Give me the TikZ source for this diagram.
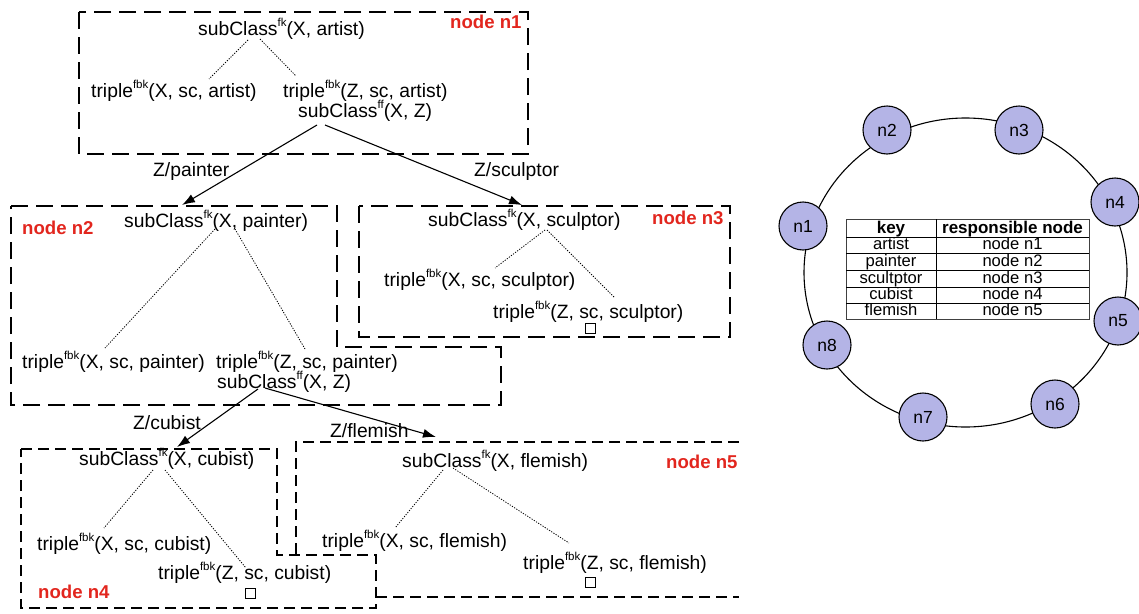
\documentclass[tikz,border=0pt]{standalone}
\usepackage{fontspec}
\setmainfont{Liberation Sans}
\usetikzlibrary{arrows.meta}

\definecolor{nodered}{RGB}{226,38,30}
\definecolor{ringfill}{RGB}{180,180,230}
\newcommand{\supx}[1]{\raisebox{0.42em}{\fontsize{11.5}{11.5}\selectfont #1}}

\tikzset{
  term/.style={inner sep=0pt, anchor=base west, font=\fontsize{19.3}{22}\selectfont},
  peer/.style={inner sep=0pt, anchor=base west, font=\fontsize{18.6}{20}\selectfont\bfseries, text=nodered},
  edgelbl/.style={inner sep=0pt, anchor=base west, font=\fontsize{19.3}{22}\selectfont},
  bigbox/.style={line width=1.2pt, dash pattern=on 17pt off 8pt},
  smallbox/.style={line width=1.1pt, dash pattern=on 11pt off 6pt},
  proof/.style={line width=0.8pt, dash pattern=on 1.2pt off 1.4pt},
  hop/.style={line width=1.1pt, -{Latex[length=13pt,width=9pt]}},
  leaf/.style={draw, line width=1pt, minimum size=10pt, inner sep=0pt},
  ringnode/.style={circle, draw, line width=1.1pt, fill=ringfill, minimum size=48pt, inner sep=0pt, font=\fontsize{17.5}{19}\selectfont},
  cell/.style={inner sep=0pt, anchor=base, font=\fontsize{16.6}{17}\selectfont},
  headcell/.style={inner sep=0pt, anchor=base, font=\fontsize{17}{17}\selectfont\bfseries},
}

\begin{document}
\begin{tikzpicture}[x=1pt,y=-1pt]
\useasboundingbox (0,0) rectangle (1139,613);

% ---------- peer boxes ----------
\draw[bigbox] (79,12) rectangle (528,154);
\draw[bigbox] (11,206) -- (337,206) -- (337,347) -- (501,347) -- (501,405) -- (11,405) -- cycle;
\draw[bigbox] (359,206) rectangle (730,337);
\draw[smallbox] (21,449) -- (277,449) -- (277,555) -- (376,555) -- (376,608) -- (21,608) -- cycle;
\draw[smallbox] (739,442) -- (296,442) -- (296,555);
\draw[smallbox] (376,597) -- (739,597);

% ---------- node n1 ----------
\node[peer] (p1) at (450,28) {node n1};
\node[term] (s1) at (198,35) {subClass\supx{fk}(X, artist)};
\node[term] (t1a) at (91,97) {triple\supx{fbk}(X, sc, artist)};
\node[term] (t1b) at (283,97) {triple\supx{fbk}(Z, sc, artist)};
\node[term] (c1) at (298,117) {subClass\supx{ff}(X, Z)};
\coordinate (s1l) at (248,40);  \coordinate (t1al) at (209,79);
\coordinate (s1r) at (260,39);  \coordinate (t1bl) at (296,76);
\draw[proof] (s1l) -- (t1al);
\draw[proof] (s1r) -- (t1bl);

% ---------- node n2 ----------
\node[peer] (p2) at (22,234) {node n2};
\node[term] (s2) at (124,227) {subClass\supx{fk}(X, painter)};
\node[term] (t2a) at (22,368) {triple\supx{fbk}(X, sc, painter)};
\node[term] (t2b) at (216,368) {triple\supx{fbk}(Z, sc, painter)};
\node[term] (c2) at (217,388) {subClass\supx{ff}(X, Z)};
\coordinate (s2l) at (215,229);  \coordinate (t2al) at (105,348);
\coordinate (s2r) at (235,229);  \coordinate (t2bl) at (305,349);
\draw[proof] (s2l) -- (t2al);
\draw[proof] (s2r) -- (t2bl);

% ---------- node n3 ----------
\node[peer] (p3) at (652,224) {node n3};
\node[term] (s3) at (428,226) {subClass\supx{fk}(X, sculptor)};
\node[term] (t3a) at (384,286) {triple\supx{fbk}(X, sc, sculptor)};
\node[term] (t3b) at (493,318) {triple\supx{fbk}(Z, sc, sculptor)};
\node[leaf] (e3) at (590,328) {};
\coordinate (s3l) at (545,230);  \coordinate (t3al) at (495,268);
\coordinate (s3r) at (547,230);  \coordinate (t3bl) at (615,298);
\draw[proof] (s3l) -- (t3al);
\draw[proof] (s3r) -- (t3bl);

% ---------- node n4 ----------
\node[peer] (p4) at (38,598) {node n4};
\node[term] (s4) at (79,465) {subClass\supx{fk}(X, cubist)};
\node[term] (t4a) at (37,550) {triple\supx{fbk}(X, sc, cubist)};
\node[term] (t4b) at (158,579) {triple\supx{fbk}(Z, sc, cubist)};
\node[leaf] (e4) at (250,593) {};
\coordinate (s4l) at (153,470);  \coordinate (t4al) at (104,528);
\coordinate (s4r) at (165,470);  \coordinate (t4bl) at (246,568);
\draw[proof] (s4l) -- (t4al);
\draw[proof] (s4r) -- (t4bl);

% ---------- node n5 ----------
\node[peer] (p5) at (666,468) {node n5};
\node[term] (s5) at (402,467) {subClass\supx{fk}(X, flemish)};
\node[term] (t5a) at (322,547) {triple\supx{fbk}(X, sc, flemish)};
\node[term] (t5b) at (523,569) {triple\supx{fbk}(Z, sc, flemish)};
\node[leaf] (e5) at (590,582) {};
\coordinate (s5l) at (443,470);  \coordinate (t5al) at (395,528);
\coordinate (s5r) at (453,468);  \coordinate (t5bl) at (569,543);
\draw[proof] (s5l) -- (t5al);
\draw[proof] (s5r) -- (t5bl);

% ---------- forwarding hops ----------
\coordinate (c1a) at (317,125);  \coordinate (c1b) at (325,125);
\coordinate (s2t) at (182,205);  \coordinate (s3t) at (522,205);
\coordinate (c2a) at (258,389);  \coordinate (c2b) at (265,388);
\coordinate (s4t) at (177,447);  \coordinate (s5t) at (436,437);
\draw[hop] (c1a) -- (s2t);
\draw[hop] (c1b) -- (s3t);
\draw[hop] (c2a) -- (s4t);
\draw[hop] (c2b) -- (s5t);
\node[edgelbl] (h2) at (153,176) {Z/painter};
\node[edgelbl] (h3) at (474,176) {Z/sculptor};
\node[edgelbl] (h4) at (133,429) {Z/cubist};
\node[edgelbl] (h5) at (330,437) {Z/flemish};

% ---------- ring overlay ----------
\coordinate (rc) at (965.5,272.5);
\draw[line width=1.1pt] (rc) ellipse [x radius=161.5pt, y radius=154.5pt];
\node[ringnode] (n1) at (803,226) {n1};
\node[ringnode] (n2) at (887,130) {n2};
\node[ringnode] (n3) at (1019,130) {n3};
\node[ringnode] (n4) at (1115,202) {n4};
\node[ringnode] (n5) at (1118,321) {n5};
\node[ringnode] (n6) at (1055,404) {n6};
\node[ringnode] (n7) at (923,417) {n7};
\node[ringnode] (n8) at (827,345) {n8};

% ---------- key table ----------
\draw[line width=0.9pt, draw=black!75] (846,219) rectangle (1089,319);
\draw[line width=0.9pt] (936,219) -- (936,319);
\foreach \yy in {237,253.5,270,287,303}
  \draw[line width=0.9pt] (846,\yy) -- (1089,\yy);
\node[headcell] (hk) at (891,233) {key};
\node[headcell] (hr) at (1012.5,233) {responsible node};
\node[cell] (k1) at (891,249.5) {artist};     \node[cell] (r1) at (1012.5,249.5) {node n1};
\node[cell] (k2) at (891,266) {painter};      \node[cell] (r2) at (1012.5,266) {node n2};
\node[cell] (k3) at (891,283) {scultptor};    \node[cell] (r3) at (1012.5,283) {node n3};
\node[cell] (k4) at (891,299.5) {cubist};     \node[cell] (r4) at (1012.5,299.5) {node n4};
\node[cell] (k5) at (891,315.5) {flemish};    \node[cell] (r5) at (1012.5,315.5) {node n5};
\end{tikzpicture}
\end{document}
